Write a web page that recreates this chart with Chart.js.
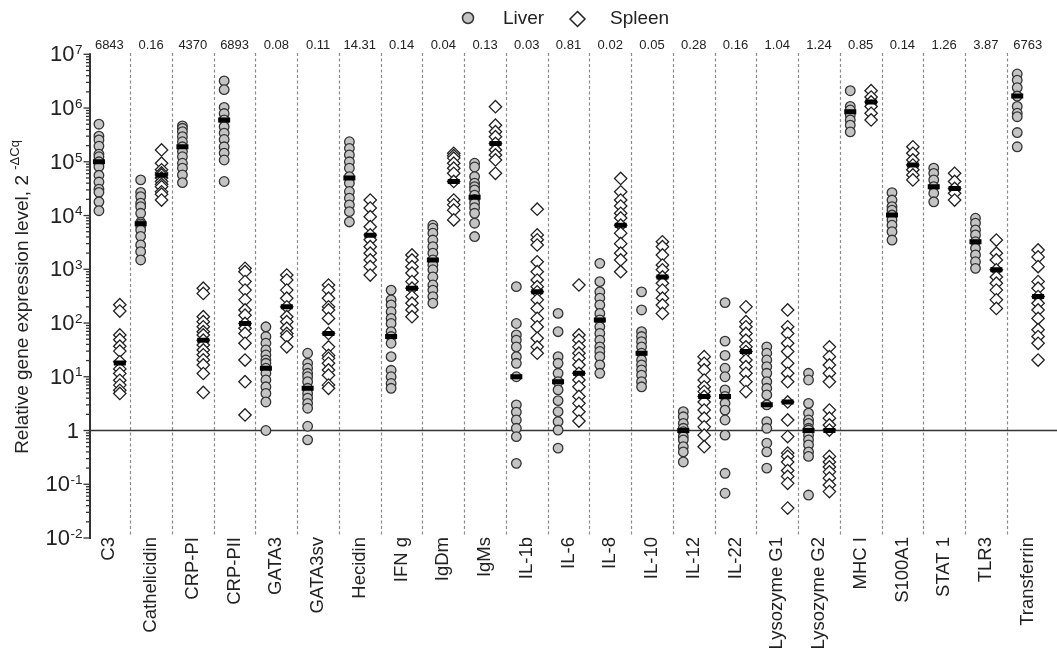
<!DOCTYPE html>
<html>
<head>
<meta charset="utf-8">
<script src="https://cdn.jsdelivr.net/npm/chart.js@4.4.1/dist/chart.umd.min.js"></script>
<style>
html,body{margin:0;padding:0;background:#fff;}
canvas{display:block;}
</style>
</head>
<body>
<canvas id="c" width="1057" height="655"></canvas>
<script>
const categories = ["C3","Cathelicidin","CRP-PI","CRP-PII","GATA3","GATA3sv","Hecidin","IFN g","IgDm","IgMs","IL-1b","IL-6","IL-8","IL-10","IL-12","IL-22","Lysozyme G1","Lysozyme G2","MHC I","S100A1","STAT 1","TLR3","Transferrin"];
const ratioLabels = ["6843","0.16","4370","6893","0.08","0.11","14.31","0.14","0.04","0.13","0.03","0.81","0.02","0.05","0.28","0.16","1.04","1.24","0.85","0.14","1.26","3.87","6763"];
const yTickExponents = [-2,-1,0,1,2,3,4,5,6,7];

const liver = [
  [500000,300000,255000,196000,139000,124000,100000,81000,56000,42000,31000,27000,18000,12300],
  [46000,27000,22500,17000,14600,11000,7500,7000,6500,5400,4100,2840,2130,1490],
  [466000,420000,363000,293000,236000,190000,155000,124000,94000,76000,57000,41000],
  [3200000,2200000,1030000,790000,600000,450000,340000,260000,190000,145000,108000,43000],
  [85,56,42,31.5,25.4,20.5,17.8,14.4,11.6,8.7,6.5,4.9,3.4,1.0],
  [27.4,17.8,14.4,11.6,10,8.1,6.1,4.9,4.0,3.2,2.6,1.2,0.67],
  [236000,178000,134000,100000,76000,53000,40000,28000,21000,15800,11800,7600],
  [410,270,217,162,122,98,69,56,42,23.7,13.2,10,7.5,6.1],
  [6600,5800,4700,3500,2630,1990,1490,1200,980,720,510,410,310,234],
  [94000,80000,53000,40000,34500,30000,24000,20000,17000,14000,11000,7200,4060],
  [475,98,60,48,36,23.7,17.8,10,3.0,2.2,1.57,1.1,0.77,0.245],
  [151,69,23.7,17.8,11.6,8.1,5.7,3.6,2.24,1.46,1.02,0.47],
  [1290,590,380,290,217,151,114,85,64,48,36,29.5,23.7,16.6,11.6],
  [380,175,69,56,45,36,27.4,20.5,16.6,13.4,10.7,8.1,6.5],
  [2.24,1.8,1.36,1.1,0.95,0.77,0.67,0.5,0.4,0.26],
  [240,46,25,14.4,10,5.7,4.3,3.2,2.4,1.57,0.82,0.16,0.068],
  [36,27.4,20.5,15.4,11.6,8.1,6.1,4.6,3.0,1.46,1.1,0.58,0.4,0.2],
  [11.6,8.7,3.2,2.1,1.57,1.36,1.1,1.02,0.82,0.67,0.54,0.4,0.33,0.063],
  [2100000,1070000,920000,740000,600000,480000,360000],
  [26600,19400,14600,12600,10200,8300,6600,5000,3500],
  [76000,61000,46000,34500,26000,18000],
  [8900,7200,5400,4360,3250,2450,1850,1380,1040],
  [4300000,3300000,2400000,1670000,1070000,800000,690000,350000,190000]
];
const spleen = [
  [219,167,60,49,37,30,19,14,11.5,8.6,7,5.6,4.9],
  [166000,94000,71000,62000,57000,50000,43000,38000,34500,27700,25000,19400],
  [445,356,131,106,85,69,60,48,39,31.5,25.6,20.6,16.6,11.5,5.1],
  [1040,900,590,410,270,175,140,98,80,64,42,20.5,8.1,1.95],
  [780,630,410,290,200,131,106,80,64,56,36],
  [510,410,290,200,175,122,64,36,25,22,17.8,13.4,10.7,7,6.1],
  [19400,13800,9500,6200,4360,3540,2630,1990,1490,1120,780],
  [1850,1490,1120,850,590,445,310,234,175,131],
  [144000,130000,117000,94000,76000,61000,43000,19400,15800,12600,8300],
  [1060000,480000,363000,293000,220000,166000,134000,108000,61000],
  [13100,4360,3540,2830,1380,900,630,475,380,270,187,122,85,52,36,27.4],
  [510,60,48,36,27.4,22,16.6,11.6,8.7,6.5,4.3,3.2,2.24,1.5],
  [49000,27700,19400,15000,11000,9000,6600,4700,3000,1990,1490,900],
  [3250,2630,1850,1200,980,720,550,410,290,217,151],
  [23.7,17.8,13.4,8.7,6.5,5.3,4.3,3.4,2.4,1.7,1.17,0.82,0.5],
  [200,106,85,64,48,36,29.5,20.5,15.4,11.6,8.1,5.3],
  [175,85,64,42,29.5,17.8,11.6,8.1,3.4,1.57,0.77,0.38,0.33,0.26,0.18,0.14,0.104,0.036],
  [36,23.7,16.6,11.6,8.1,2.4,1.7,1.27,1.02,0.33,0.26,0.21,0.17,0.13,0.097,0.073],
  [2100000,1600000,1300000,1070000,800000,600000],
  [190000,144000,108000,87000,71000,57000,46000],
  [61000,43000,32000,26000,19400],
  [3500,1990,1490,980,720,550,410,270,187],
  [2290,1700,1120,590,445,310,234,175,122,75,56,42,20.5]
];
const liverMedian = [100000,7000,190000,600000,14.4,6.1,50000,56,1490,22000,10,8.1,114,27.4,1.0,4.3,3.0,1.0,850000,10200,34500,3250,1670000];
const spleenMedian = [18,56000,48,98,200,64,4300,445,43000,220000,380,11.6,6600,720,4.3,29.5,3.4,1.0,1300000,87000,32000,980,310];

const FONT = '"Liberation Sans", Arial, Helvetica, sans-serif';
const TXT = '#222';

const liverPts = [], spleenPts = [], medPts = [];
categories.forEach((c, i) => {
  liver[i].forEach(v => liverPts.push({x: i - 0.25, y: v}));
  spleen[i].forEach(v => spleenPts.push({x: i + 0.25, y: v}));
  medPts.push({x: i - 0.25, y: liverMedian[i]});
  medPts.push({x: i + 0.25, y: spleenMedian[i]});
});

const decor = {
  id: 'decor',
  beforeDatasetsDraw(chart) {
    const ctx = chart.ctx, xs = chart.scales.x, ys = chart.scales.y, ca = chart.chartArea;
    ctx.save();
    // dashed separators
    ctx.strokeStyle = '#8a8a8a';
    ctx.lineWidth = 1.2;
    ctx.setLineDash([3, 2.5]);
    for (let i = 0; i < categories.length - 1; i++) {
      const x = Math.round(xs.getPixelForValue(i + 0.5)) + 0.5;
      ctx.beginPath();
      ctx.moveTo(x, 53);
      ctx.lineTo(x, 536);
      ctx.stroke();
    }
    ctx.setLineDash([]);
    // line at 1
    const y1 = ys.getPixelForValue(1);
    ctx.strokeStyle = '#333';
    ctx.lineWidth = 1.5;
    ctx.beginPath();
    ctx.moveTo(ca.left, y1);
    ctx.lineTo(1057, y1);
    ctx.stroke();
    // y axis line
    const ax = ca.left + 1.5;
    ctx.lineWidth = 2;
    ctx.beginPath();
    ctx.moveTo(ax, ys.getPixelForValue(1e7) - 1);
    ctx.lineTo(ax, ys.getPixelForValue(0.01) + 1);
    ctx.stroke();
    // ticks
    ctx.lineWidth = 1.3;
    yTickExponents.forEach(e => {
      const y = ys.getPixelForValue(Math.pow(10, e));
      ctx.beginPath();
      ctx.moveTo(ax - 6.5, y);
      ctx.lineTo(ax, y);
      ctx.stroke();
      if (e < 7) {
        for (let m = 2; m <= 9; m++) {
          const ym = ys.getPixelForValue(m * Math.pow(10, e));
          ctx.beginPath();
          ctx.moveTo(ax - 4, ym);
          ctx.lineTo(ax, ym);
          ctx.stroke();
        }
      }
    });
    // tick labels
    ctx.fillStyle = TXT;
    ctx.textBaseline = 'middle';
    yTickExponents.forEach(e => {
      const y = ys.getPixelForValue(Math.pow(10, e));
      if (e === 0) {
        ctx.font = '22px ' + FONT;
        ctx.textAlign = 'right';
        ctx.fillText('1', 79, y + 1);
        return;
      }
      const sup = e < 0 ? '-' + (-e) : String(e);
      ctx.font = '13.5px ' + FONT;
      const sw = ctx.measureText(sup).width;
      ctx.textAlign = 'right';
      ctx.fillText(sup, 82.5, y - 4);
      ctx.font = '22px ' + FONT;
      ctx.fillText('10', 82.5 - sw - 0.5, y + 1);
    });
    // category labels
    ctx.font = '18.5px ' + FONT;
    categories.forEach((c, i) => {
      ctx.save();
      ctx.translate(xs.getPixelForValue(i), 537);
      ctx.rotate(-Math.PI / 2);
      ctx.textAlign = 'right';
      ctx.textBaseline = 'middle';
      ctx.fillText(c, 0, 0);
      ctx.restore();
    });
    // top numbers
    ctx.font = '13px ' + FONT;
    ctx.textAlign = 'center';
    ratioLabels.forEach((t, i) => {
      ctx.fillText(t, xs.getPixelForValue(i), 45);
    });
    // y title
    ctx.save();
    ctx.translate(23, 297);
    ctx.rotate(-Math.PI / 2);
    const main = 'Relative gene expression level, 2 ';
    const supT = '-\u0394Cq';
    ctx.font = '19px ' + FONT;
    const w1 = ctx.measureText(main).width;
    ctx.font = '13px ' + FONT;
    const w2 = ctx.measureText(supT).width;
    const start = -(w1 + w2) / 2;
    ctx.textAlign = 'left';
    ctx.textBaseline = 'middle';
    ctx.font = '19px ' + FONT;
    ctx.fillText(main, start, 0);
    ctx.font = '13px ' + FONT;
    ctx.fillText(supT, start + w1, -7.5);
    ctx.restore();
    // legend
    ctx.beginPath();
    ctx.arc(468, 18, 5.5, 0, Math.PI * 2);
    ctx.fillStyle = '#c4c4c4';
    ctx.fill();
    ctx.strokeStyle = '#333';
    ctx.lineWidth = 1.5;
    ctx.stroke();
    ctx.beginPath();
    ctx.moveTo(577.5, 11.5);
    ctx.lineTo(585, 19);
    ctx.lineTo(577.5, 26.5);
    ctx.lineTo(570, 19);
    ctx.closePath();
    ctx.fillStyle = '#fff';
    ctx.fill();
    ctx.strokeStyle = '#222';
    ctx.stroke();
    ctx.fillStyle = TXT;
    ctx.font = '19px ' + FONT;
    ctx.textAlign = 'left';
    ctx.textBaseline = 'middle';
    ctx.fillText('Liver', 503, 19);
    ctx.fillText('Spleen', 610, 19);
    ctx.restore();
  }
};

new Chart(document.getElementById('c').getContext('2d'), {
  type: 'scatter',
  data: {
    datasets: [
      {label: 'median', data: medPts, order: 0, pointStyle: 'line', pointRadius: 6, pointHoverRadius: 6,
       borderColor: '#000', backgroundColor: '#000', pointBorderWidth: 5, borderWidth: 5},
      {label: 'Spleen', data: spleenPts, order: 1, pointStyle: 'rectRot', pointRadius: 6.2, pointHoverRadius: 6.2,
       backgroundColor: '#ffffff', borderColor: '#222', borderWidth: 1.3},
      {label: 'Liver', data: liverPts, order: 2, pointStyle: 'circle', pointRadius: 4.8, pointHoverRadius: 4.8,
       backgroundColor: '#c4c4c4', borderColor: '#333', borderWidth: 1.3}
    ]
  },
  options: {
    responsive: false,
    animation: false,
    events: [],
    layout: {padding: {left: 88.5, right: 0, top: 54.3, bottom: 117}},
    scales: {
      x: {type: 'linear', min: -0.5, max: -0.5 + (1057 - 88.5) / 42.22, display: false},
      y: {type: 'logarithmic', min: 0.01, max: 1e7, display: false}
    },
    plugins: {legend: {display: false}, tooltip: {enabled: false}}
  },
  plugins: [decor]
});
</script>
</body>
</html>
